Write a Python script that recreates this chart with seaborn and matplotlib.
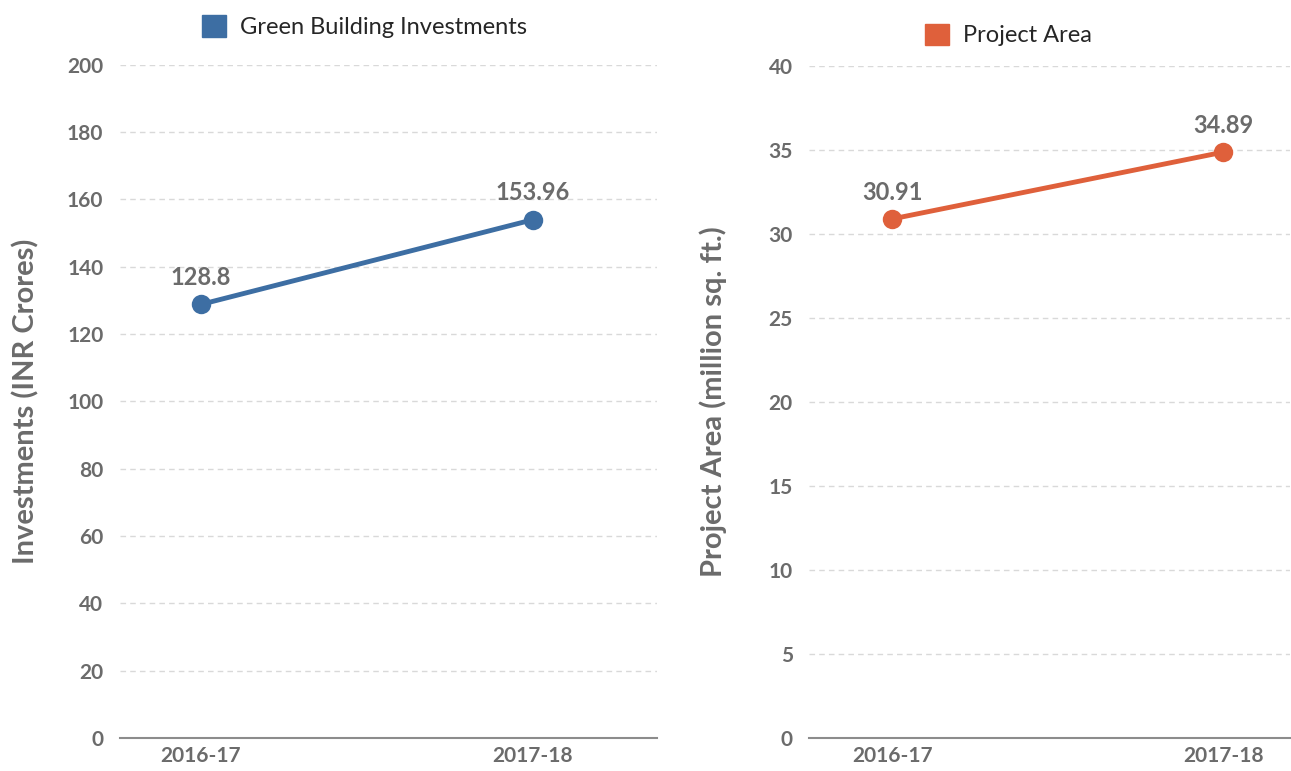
import matplotlib
matplotlib.use("Agg")
import matplotlib.pyplot as plt
import pandas as pd
import seaborn as sns

years = ["2016-17", "2017-18"]
investments = [128.8, 153.96]
project_area = [30.91, 34.89]
inv_labels = ["128.8", "153.96"]
area_labels = ["30.91", "34.89"]

BLUE = "#3d6ea3"
ORANGE = "#df603b"
GREY = "#6b6b6b"

sns.set_theme(style="white")
plt.rcParams["font.family"] = ["Lato", "DejaVu Sans"]

fig = plt.figure(figsize=(12.91, 7.71), dpi=100)
ax1 = fig.add_axes([0.093, 0.043, 0.416, 0.873])
ax2 = fig.add_axes([0.627, 0.043, 0.372, 0.871])


def draw(ax, values, labels, color, name, ylabel, ymax, step, xlim, legend_x, legend_y, ypad):
    df = pd.DataFrame({"year": years, "value": values, "series": name})
    df["x"] = range(len(years))
    sns.lineplot(data=df, x="x", y="value", ax=ax, color=color, lw=3.5,
                 marker="o", markersize=14, markeredgewidth=0, legend=False)
    for xi, v, lab in zip(df["x"], values, labels):
        ax.annotate(lab, (xi, v), xytext=(0, 11), textcoords="offset points",
                    ha="center", va="bottom", fontsize=17, fontweight="bold",
                    color=GREY)
    ax.set_xlim(*xlim)
    ax.set_ylim(0, ymax)
    ax.set_yticks(range(0, ymax + 1, step))
    ax.set_xticks(range(len(years)))
    ax.set_xticklabels(years)
    ax.set_xlabel("")
    ax.set_ylabel(ylabel, fontsize=21, fontweight="bold", color=GREY, labelpad=ypad)
    ax.tick_params(axis="both", length=0, labelsize=15, labelcolor=GREY)
    ax.tick_params(axis="y", pad=12)
    ax.tick_params(axis="x", pad=6)
    for t in ax.get_xticklabels() + ax.get_yticklabels():
        t.set_fontweight("bold")
    ax.yaxis.grid(True, ls=(0, (4, 3)), color="#d9d9d9", lw=1)
    ax.set_axisbelow(True)
    for s in ["top", "right", "left"]:
        ax.spines[s].set_visible(False)
    ax.spines["bottom"].set_color("#8c8c8c")
    ax.spines["bottom"].set_linewidth(1.5)
    handle = plt.Rectangle((0, 0), 1, 1, color=color)
    ax.legend([handle], [name], loc="lower center", bbox_to_anchor=(legend_x, legend_y),
              frameon=False, fontsize=17, handlelength=1.0, handleheight=1.0,
              handletextpad=0.6, borderpad=0.2)


draw(ax1, investments, inv_labels, BLUE, "Green Building Investments",
     "Investments (INR Crores)", 200, 20, (-0.244, 1.374), 0.455, 1.015, 20)
draw(ax2, project_area, area_labels, ORANGE, "Project Area",
     "Project Area (million sq. ft.)", 40, 5, (-0.25, 1.2), 0.415, 1.005, 30)

fig.savefig("out.png", dpi=100)
